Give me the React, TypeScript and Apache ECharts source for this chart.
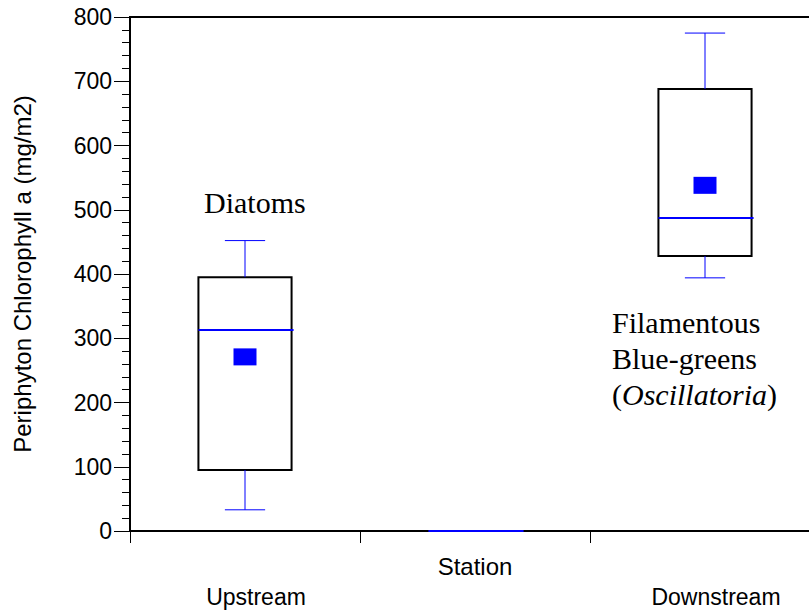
import React, { useEffect, useRef } from "react";
import * as echarts from "echarts";

const stations = ["Upstream", "", "Downstream"];
const whiskerLow = [33, 0, 394];
const quartile1 = [95, 0, 428];
const medians = [313, 0, 487];
const quartile3 = [395, 0, 688];
const whiskerHigh = [452, 0, 775];
const means: (number | null)[] = [271, null, 538];
const yMin = 0;
const yMax = 800;
const yInterval = 100;
const yTitle = "Periphyton Chlorophyll a (mg/m2)";
const xTitle = "Station";

const SANS = "'Liberation Sans', Arial, sans-serif";
const SERIF = "'Liberation Serif', 'Times New Roman', serif";
const BLUE = "#0000ff";

export default function App() {
  const ref = useRef<HTMLDivElement>(null);
  useEffect(() => {
    const chart = echarts.init(ref.current!, null, { renderer: "svg" });
    const boxData = stations.map((_, i) => [
      i,
      whiskerLow[i],
      quartile1[i],
      medians[i],
      quartile3[i],
      whiskerHigh[i],
    ]);
    const meanData = means
      .map((m, i) => (m == null ? null : [i, m]))
      .filter((d) => d !== null);

    chart.setOption({
      animation: false,
      backgroundColor: "#fff",
      grid: {
        left: 130,
        top: 17,
        right: -11,
        bottom: 80,
        outerBoundsMode: "none",
        containLabel: false,
        show: true,
        borderColor: "#000",
        borderWidth: 2,
        backgroundColor: "transparent",
      },
      xAxis: {
        type: "category",
        data: stations,
        boundaryGap: true,
        name: xTitle,
        nameLocation: "middle",
        nameGap: 23,
        nameMoveOverlap: false,
        nameTextStyle: { fontFamily: SANS, fontSize: 24, color: "#000" },
        axisLine: { show: true, lineStyle: { color: "#000", width: 2 } },
        axisTick: { show: true, length: 12, interval: 0, lineStyle: { color: "#000", width: 1 } },
        axisLabel: {
          fontFamily: SANS,
          fontSize: 23,
          color: "#000",
          margin: 54,
          interval: 0,
          padding: [0, 0, 0, 22],
        },
        splitLine: { show: false },
      },
      yAxis: {
        type: "value",
        min: yMin,
        max: yMax,
        interval: yInterval,
        name: yTitle,
        nameLocation: "middle",
        nameGap: 96,
        nameMoveOverlap: false,
        nameTextStyle: { fontFamily: SANS, fontSize: 24, color: "#000" },
        axisLine: { show: true, lineStyle: { color: "#000", width: 2 } },
        axisTick: { show: true, length: 16, lineStyle: { color: "#000", width: 1 } },
        minorTick: { show: true, splitNumber: 5, length: 8, lineStyle: { color: "#000", width: 1 } },
        axisLabel: { fontFamily: SANS, fontSize: 23, color: "#000", margin: 18 },
        splitLine: { show: false },
        minorSplitLine: { show: false },
      },
      series: [
        {
          type: "custom",
          data: boxData,
          encode: { x: 0, y: [1, 2, 3, 4, 5] },
          z: 3,
          renderItem: (params: any, api: any) => {
            const idx = api.value(0);
            const lo = api.coord([idx, api.value(1)]);
            const q1 = api.coord([idx, api.value(2)]);
            const md = api.coord([idx, api.value(3)]);
            const q3 = api.coord([idx, api.value(4)]);
            const hi = api.coord([idx, api.value(5)]);
            const band = api.size([1, 0])[0];
            const bw = band * 0.405;
            const cw = band * 0.175;
            const cx = lo[0];
            return {
              type: "group",
              children: [
                {
                  type: "rect",
                  shape: { x: cx - bw / 2, y: q3[1], width: bw, height: q1[1] - q3[1] },
                  style: { fill: "none", stroke: "#000", lineWidth: 2 },
                },
                {
                  type: "line",
                  shape: { x1: cx, y1: q3[1], x2: cx, y2: hi[1] },
                  style: { stroke: BLUE, lineWidth: 1 },
                },
                {
                  type: "line",
                  shape: { x1: cx - cw / 2, y1: hi[1], x2: cx + cw / 2, y2: hi[1] },
                  style: { stroke: BLUE, lineWidth: 1 },
                },
                {
                  type: "line",
                  shape: { x1: cx, y1: q1[1], x2: cx, y2: lo[1] },
                  style: { stroke: BLUE, lineWidth: 1 },
                },
                {
                  type: "line",
                  shape: { x1: cx - cw / 2, y1: lo[1], x2: cx + cw / 2, y2: lo[1] },
                  style: { stroke: BLUE, lineWidth: 1 },
                },
                {
                  type: "line",
                  shape: { x1: cx - bw / 2, y1: md[1], x2: cx + bw / 2 + 2, y2: md[1] },
                  style: { stroke: BLUE, lineWidth: 2 },
                },
              ],
            };
          },
        },
        {
          type: "scatter",
          data: meanData,
          symbol: "rect",
          symbolSize: [23, 17],
          itemStyle: { color: BLUE, opacity: 1 },
          z: 4,
        },
      ],
      graphic: [
        {
          type: "text",
          left: 204,
          top: 187,
          style: { text: "Diatoms", font: `30px ${SERIF}`, fill: "#000" },
        },
        {
          type: "text",
          left: 612,
          top: 307,
          style: {
            text: "{n|Filamentous}\n{n|Blue-greens}\n{n|(}{i|Oscillatoria}{n|)}",
            fill: "#000",
            rich: {
              n: { fontFamily: SERIF, fontSize: 30, lineHeight: 36, fill: "#000" },
              i: { fontFamily: SERIF, fontSize: 30, fontStyle: "italic", lineHeight: 36, fill: "#000" },
            },
          },
        },
      ],
    });
    return () => chart.dispose();
  }, []);
  return (
    <div
      ref={ref}
      style={{ position: "fixed", left: 0, top: 0, width: 809, height: 611 }}
    />
  );
}
